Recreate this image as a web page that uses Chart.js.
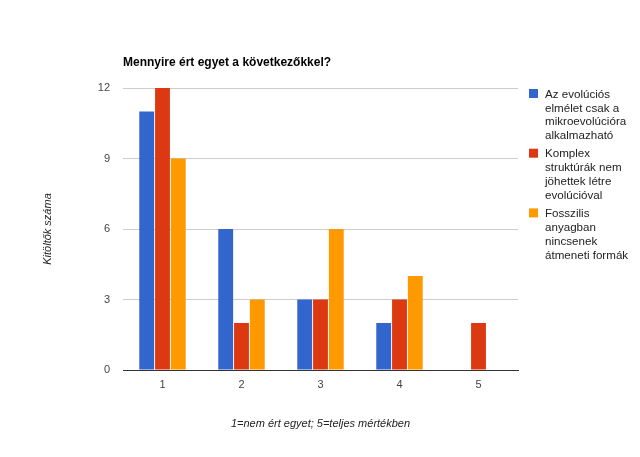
<!DOCTYPE html>
<html>
<head>
<meta charset="utf-8">
<script src="https://cdn.jsdelivr.net/npm/chart.js@4/dist/chart.umd.min.js"></script>
<style>
html,body{margin:0;padding:0;background:#fff;}
#wrap{width:640px;height:457px;position:relative;}
</style>
</head>
<body>
<div id="wrap"><canvas id="c" width="640" height="457"></canvas></div>
<script>
const chartTitle = "Mennyire ért egyet a következőkkel?";
const categories = ["1", "2", "3", "4", "5"];
const seriesNames = [
  "Az evolúciós elmélet csak a mikroevolúcióra alkalmazható",
  "Komplex struktúrák nem jöhettek létre evolúcióval",
  "Fosszilis anyagban nincsenek átmeneti formák"
];
const legendLines = [
  ["Az evolúciós", "elmélet csak a", "mikroevolúcióra", "alkalmazható"],
  ["Komplex", "struktúrák nem", "jöhettek létre", "evolúcióval"],
  ["Fosszilis", "anyagban", "nincsenek", "átmeneti formák"]
];
const evolucioMikro = [11, 6, 3, 2, 0];
const komplexStrukturak = [12, 2, 3, 3, 2];
const fosszilisAtmenet = [9, 3, 6, 4, 0];
const yTicks = [0, 3, 6, 9, 12];
const yTitle = "Kitöltők száma";
const xTitle = "1=nem ért egyet; 5=teljes mértékben";
const colors = ["#3366cc", "#dc3912", "#ff9900"];

const FONT = "Arial, 'Liberation Sans', sans-serif";

const overlay = {
  id: 'overlay',
  afterDraw(chart) {
    const ctx = chart.ctx;
    const ca = chart.chartArea;
    ctx.save();
    // title
    ctx.font = "bold 12px " + FONT;
    ctx.fillStyle = "#000";
    ctx.textAlign = "left";
    ctx.textBaseline = "middle";
    ctx.fillText(chartTitle, ca.left, 63);
    // legend
    const lx = ca.right + 11;
    let y = 94.5;
    ctx.font = "11.6px " + FONT;
    chart.data.datasets.forEach((ds, i) => {
      ctx.fillStyle = ds.backgroundColor;
      ctx.fillRect(lx, y - 5.5, 9, 9);
      ctx.fillStyle = "#222";
      legendLines[i].forEach((ln, j) => {
        ctx.fillText(ln, lx + 16, y + j * 13.8);
      });
      y += legendLines[i].length * 13.8 + 4.5;
    });
    ctx.restore();
  }
};

new Chart(document.getElementById('c'), {
  type: 'bar',
  data: {
    labels: categories,
    datasets: [
      { label: seriesNames[0], data: evolucioMikro, backgroundColor: colors[0] },
      { label: seriesNames[1], data: komplexStrukturak, backgroundColor: colors[1] },
      { label: seriesNames[2], data: fosszilisAtmenet, backgroundColor: colors[2] }
    ]
  },
  options: {
    responsive: false,
    animation: false,
    devicePixelRatio: 1,
    layout: { padding: { left: 37, right: 122, top: 88, bottom: 22 } },
    datasets: { bar: { categoryPercentage: 0.6, barPercentage: 0.94 } },
    plugins: {
      legend: { display: false },
      tooltip: { enabled: false },
      title: { display: false }
    },
    scales: {
      x: {
        grid: { display: false, drawTicks: false },
        border: { display: true, color: "#333", width: 1 },
        ticks: { color: "#444", font: { family: FONT, size: 11 }, padding: 8 },
        title: { display: true, text: xTitle, color: "#222", font: { family: FONT, size: 11, style: 'italic' }, padding: { top: 4, bottom: 4 } },
        afterFit(s) { s.height = 65; }
      },
      y: {
        min: 0, max: 12,
        afterBuildTicks(s) { s.ticks = yTicks.map(v => ({ value: v })); },
        grid: { color: "#cccccc", drawTicks: false, lineWidth: 1 },
        border: { display: false },
        ticks: { color: "#444", font: { family: FONT, size: 11 }, padding: 13 },
        title: { display: true, text: yTitle, color: "#222", font: { family: FONT, size: 11, style: 'italic' }, padding: { top: 4, bottom: 4 } },
        afterFit(s) { s.width = 86; }
      }
    }
  },
  plugins: [overlay]
});
</script>
</body>
</html>
